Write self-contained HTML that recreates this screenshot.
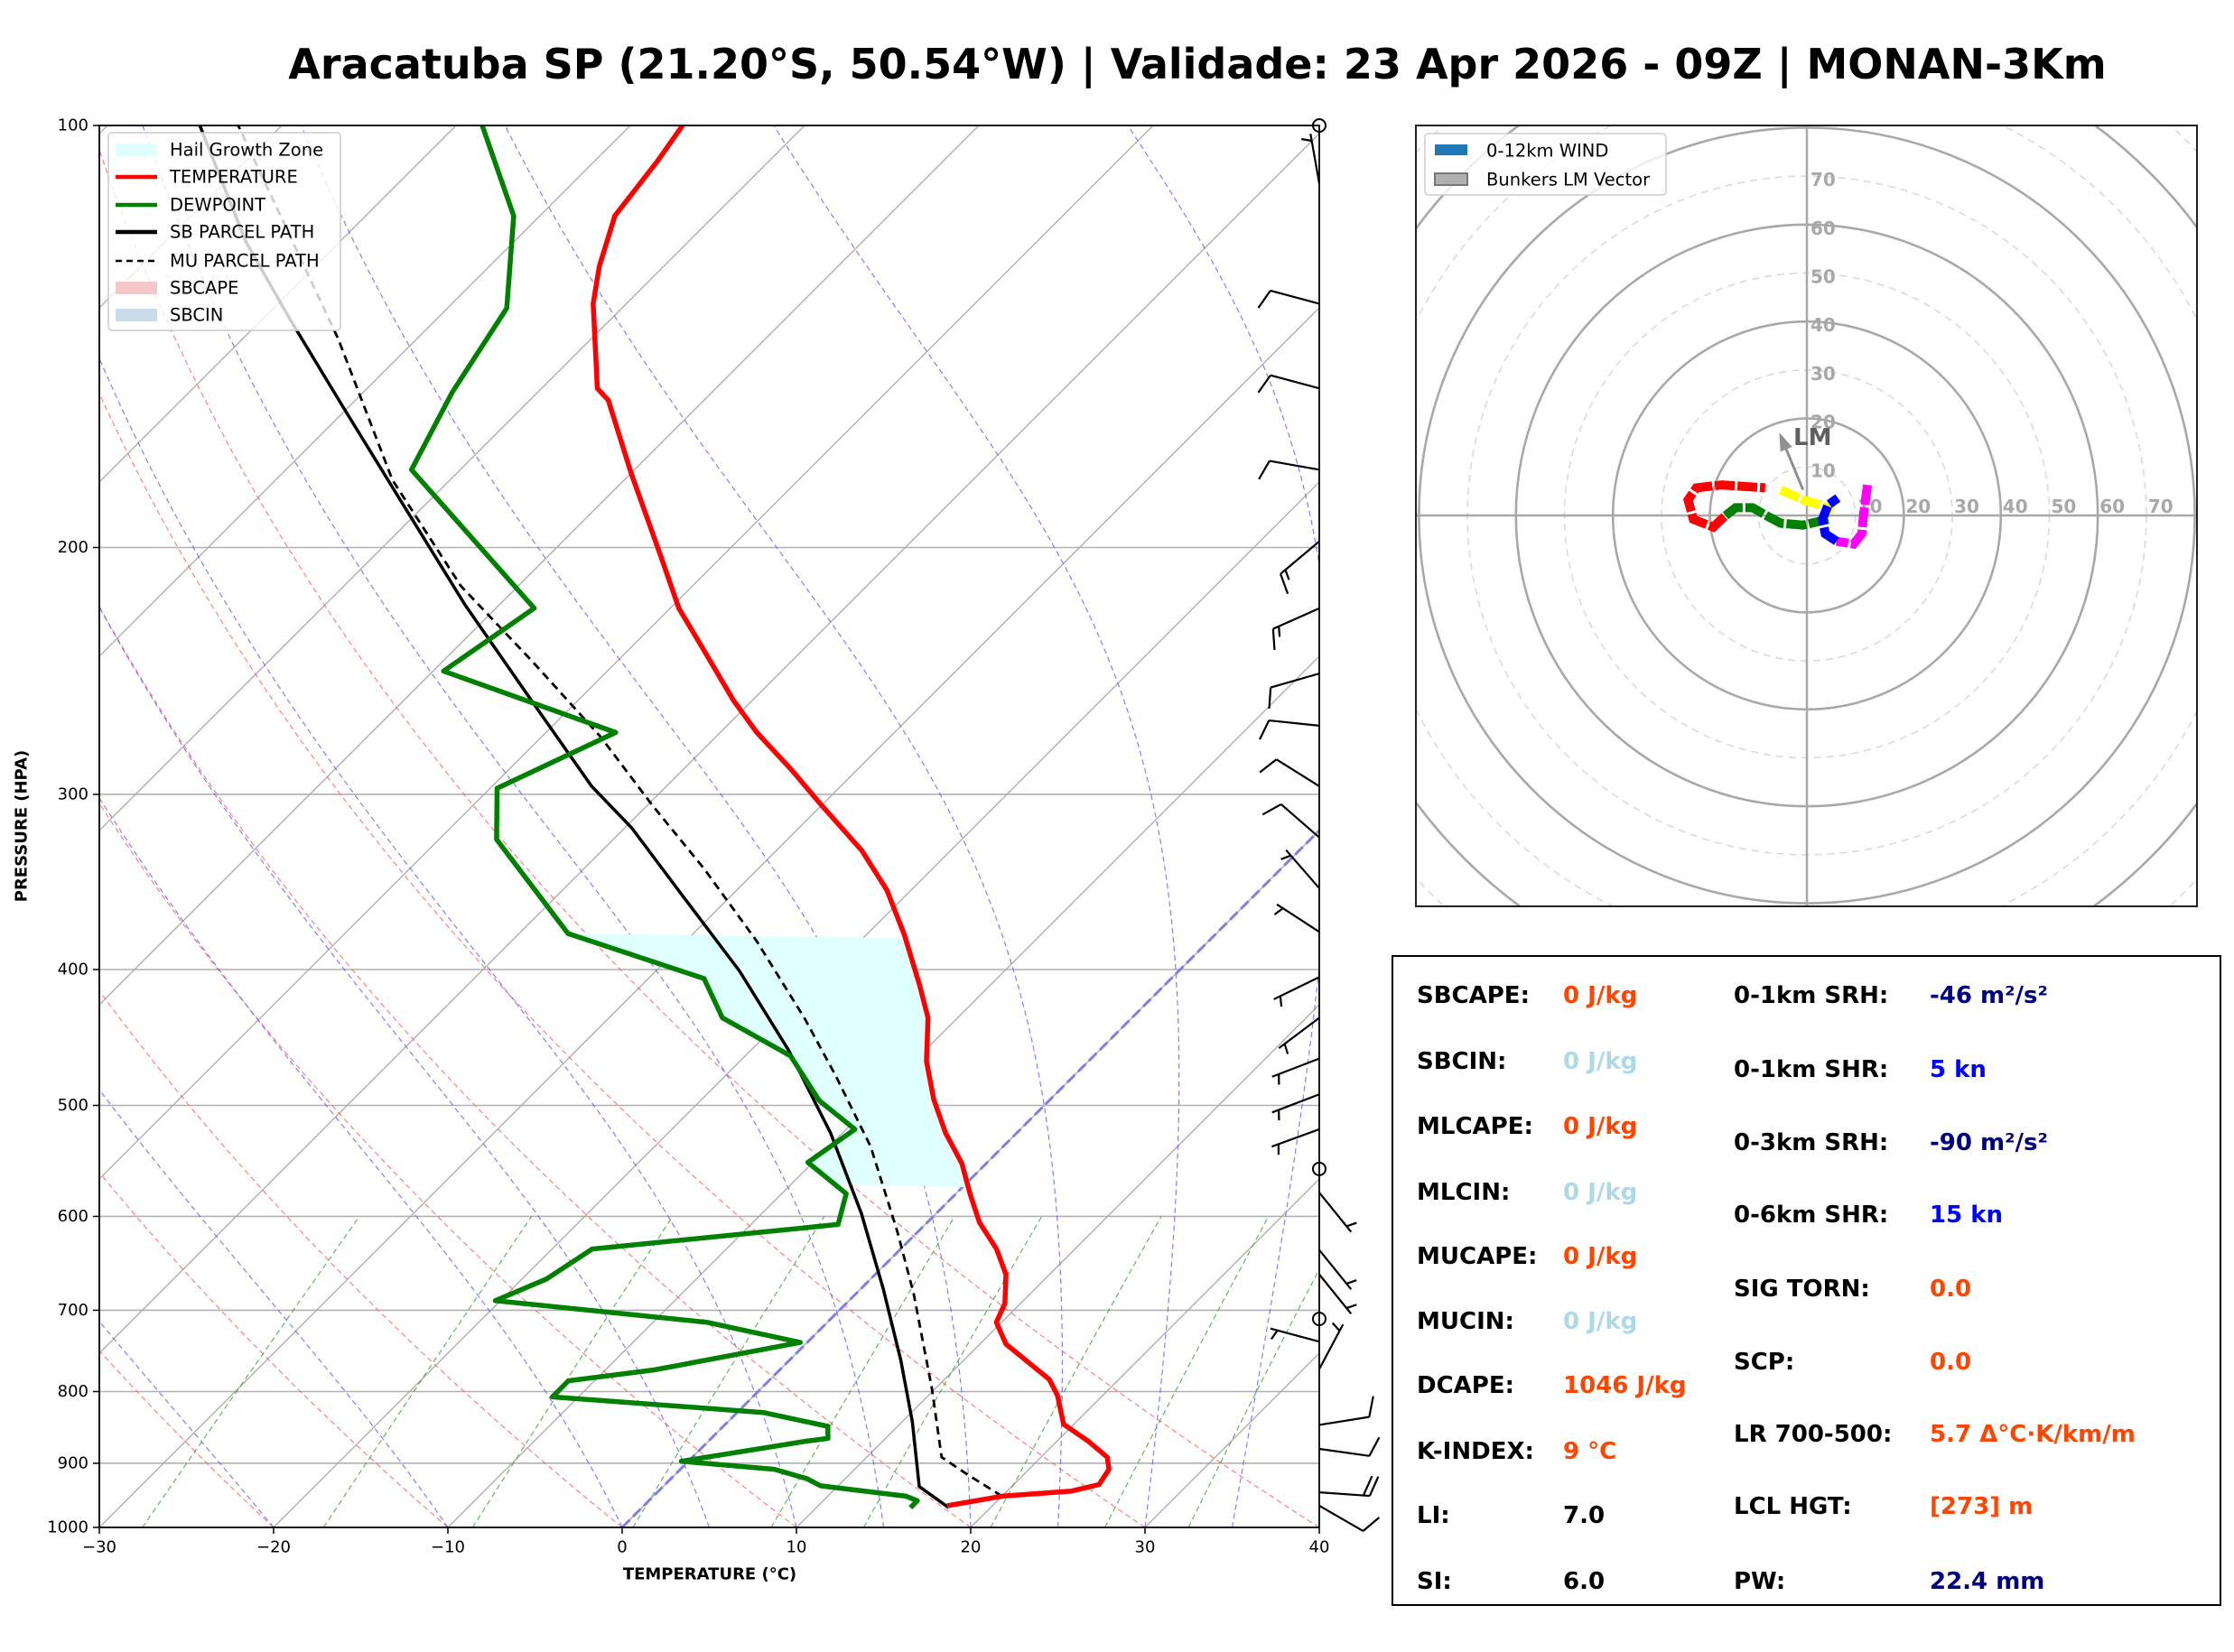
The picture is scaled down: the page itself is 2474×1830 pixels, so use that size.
<!DOCTYPE html>
<html><head><meta charset="utf-8"><style>
html,body{margin:0;padding:0;background:#fff;}
svg{display:block;font-family:"Liberation Sans","DejaVu Sans",sans-serif;}
</style></head><body>
<svg id="chart" width="2474" height="1830" viewBox="0 0 2474 1830" xmlns="http://www.w3.org/2000/svg">
<defs>
<clipPath id="skclip"><rect x="110" y="139" width="1351" height="1553"/></clipPath>
<clipPath id="hoclip"><rect x="1568" y="139" width="865" height="865"/></clipPath>
</defs>
<text x="1326" y="71" text-anchor="middle" dominant-baseline="central" font-size="46" font-weight="bold" font-family="DejaVu Sans, sans-serif">Aracatuba SP (21.20°S, 50.54°W) | Validade: 23 Apr 2026 - 09Z | MONAN-3Km</text>
<g id="sk"></g>
<g id="ho"></g>
<g id="st"></g>
</svg>
<script>
// ---- data ----
const tempP=[965,950,942,932,909,891,868,844,805,784,740,714,692,660,633,606,578,550,523,495,465,433,410,378,351,329,305,288,271,257,237,221,203,177,157,154,134,126,116,106,100];
const tempT=[17.4,20.0,23.7,24.9,24.6,23.8,21.8,19.4,17.4,16.0,11.5,9.7,9.1,7.5,5.5,3.0,0.8,-1.4,-4.1,-6.7,-9.3,-11.7,-14.1,-17.8,-21.4,-25.1,-30.1,-33.8,-37.9,-41.1,-45.6,-49.5,-53.5,-60.0,-65.5,-66.8,-71.9,-73.7,-75.7,-76.4,-77.0];
const dewP=[968,957,950,934,923,909,897,868,864,847,828,807,786,772,738,714,689,665,633,608,578,549,520,496,461,433,406,377,323,297,271,245,221,176,155,135,116,100];
const dewT=[15.4,15.4,14.5,9.0,7.8,5.4,-0.4,5.6,6.7,6.0,1.5,-11.5,-11.5,-7.2,-0.4,-6.9,-20.3,-18.6,-17.7,-5.0,-6.3,-10.3,-9.5,-13.2,-17.4,-23.5,-26.8,-37.2,-46.7,-49.6,-46.0,-59.4,-57.8,-72.8,-74.9,-76.6,-81.5,-88.5];
const sbP=[968,935,841,760,676,597,523,457,401,356,317,296,257,220,185,158,137,121,100];
const sbT=[17.6,14.7,10.6,6.4,1.3,-4.3,-10.7,-17.8,-25.2,-32.5,-39.6,-44.3,-52.7,-61.9,-71.7,-80.6,-88.6,-95.4,-104.7];
const muP=[950,916,891,796,681,615,535,476,433,382,339,305,273,241,213,179,142,100];
const muT=[20.0,16.7,14.3,9.8,3.3,-1.2,-7.6,-13.7,-18.8,-25.9,-33.1,-39.8,-46.6,-54.9,-63.3,-73.3,-84.5,-102.5];
const hailTop=377, hailBot=572;
const pTicks=[100,200,300,400,500,600,700,800,900,1000];
const tTicks=[-30,-20,-10,0,10,20,30,40];
const barbP=[110,134,154,176,198,221,246,268,296,322,350,376,405,433,463,491,520,577,634,660,737,771,845,879,944,965];
const barbSpd=[5,10,10,10,15,15,10,10,10,10,5,5,5,5,5,5,5,5,5,5,5,5,10,10,20,10];
const barbDir=[350,285,285,280,230,246,254,276,302,311,319,303,244,233,249,249,250,141,141,141,285,28,81,98,94,120];
const calmP=[100,555,710];
const hodoMagU=[12.5,11.7,11.3,9.6,6.1], hodoMagV=[6.3,0.2,-3.8,-5.9,-5.3];
const hodoBluU=[6.1,3.8,3.2,4.4,6.4], hodoBluV=[-5.3,-3.8,-0.8,2.2,3.6];
const hodoGrnU=[4.4,-0.8,-5.4,-7.7,-11.2,-14.7,-17.0], hodoGrnV=[-0.8,-2,-1.6,-0.4,1.6,1.6,-0.2];
const hodoYelU=[-5.4,-0.8,2.7,5.5], hodoYelV=[5.3,3.2,2.2,1.2];
const hodoRedU=[-17.0,-19.3,-23.4,-24.5,-22.8,-17.6,-8.6], hodoRedV=[-0.2,-2.4,-0.8,3.2,5.7,6.3,5.7];
const lmVec=[-0.8,5.3,-5.4,16.4];
const ringLabels=["10","20","30","40","50","60","70"];

// ---- helpers ----
const NS="http://www.w3.org/2000/svg";
function mk(tag,attrs,parent){const e=document.createElementNS(NS,tag);for(const k in attrs)e.setAttribute(k,attrs[k]);parent.appendChild(e);return e;}
const L=110,R=1461,T=139,B=1692;
function yp(p){return B-Math.log10(1000/p)*(B-T);}
function xs(t,p){return L+(t+30)*(R-L)/70+(B-yp(p));}
function ptsStr(P,Tt){return P.map((p,i)=>xs(Tt[i],p).toFixed(1)+","+yp(p).toFixed(1)).join(" ");}
function interp(P,Tt,p){const lp=Math.log(p);for(let i=0;i<P.length-1;i++){const a=Math.log(P[i]),b=Math.log(P[i+1]);if((lp<=a&&lp>=b)||(lp>=a&&lp<=b)){const f=(lp-a)/(b-a);return Tt[i]+f*(Tt[i+1]-Tt[i]);}}return Tt[Tt.length-1];}

const sk=document.getElementById('sk');
const clipG=mk('g',{'clip-path':'url(#skclip)'},sk);



pTicks.forEach(p=>{const l=mk('line',{x1:L,x2:R,y1:yp(p),y2:yp(p),stroke:'#b0b0b0','stroke-width':1.6},clipG);

});
for(let t=-130;t<=40;t+=10){const l=mk('line',{x1:xs(t,1000),y1:B,x2:xs(t,100),y2:T,stroke:'#a8a8a8','stroke-width':1.3},clipG);

}
for(let t0=-30;t0<=40;t0+=10){let s=[];for(let p=1000;p>=100;p-=10){const tk=(t0+273.15)*Math.pow(p/1000,0.2857)-273.15;s.push(xs(tk,p).toFixed(1)+","+yp(p).toFixed(1));}
const e=mk('polyline',{points:s.join(" "),fill:'none',stroke:'#ff6060','stroke-width':1.2,'stroke-dasharray':'6,4',opacity:0.8},clipG);

}
function esat(tk){return 6.112*Math.exp(17.67*(tk-273.15)/(tk-29.65));}
[-20,-10,0,5,10,15,20,25,30,35].forEach(t0=>{let tk=t0+273.15,s=[];for(let p=1000;p>=100;p-=2){s.push(xs(tk-273.15,p).toFixed(1)+","+yp(p).toFixed(1));const es=esat(tk),rs=0.622*es/(p-es);const d=(287*tk+2.5e6*rs)/(1005+2.5e6*2.5e6*rs*0.622/(287*tk*tk))/p;tk-=d*2;}
const e=mk('polyline',{points:s.join(" "),fill:'none',stroke:'#6060ff','stroke-width':1.2,'stroke-dasharray':'6,4',opacity:0.8},clipG);

});
[0.0004,0.001,0.002,0.004,0.007,0.01,0.016,0.024,0.032].forEach(w=>{let s=[];for(let p=1000;p>=600;p-=10){const e=w*p/(0.622+w),g=Math.log(e/6.112),td=243.5*g/(17.67-g);s.push(xs(td,p).toFixed(1)+","+yp(p).toFixed(1));}
const e=mk('polyline',{points:s.join(" "),fill:'none',stroke:'#40a040','stroke-width':1.2,'stroke-dasharray':'6,4',opacity:0.8},clipG);

});
const z0=mk('line',{x1:xs(0,1000),y1:B,x2:xs(0,100),y2:T,stroke:'#8080e0','stroke-width':3,'stroke-dasharray':'12,5'},clipG);


(function(){let s=[];for(let p=hailTop;p<=hailBot;p+=4){s.push(xs(interp(dewP,dewT,p),p).toFixed(1)+","+yp(p).toFixed(1));}
for(let p=hailBot;p>=hailTop;p-=4){s.push(xs(interp(tempP,tempT,p),p).toFixed(1)+","+yp(p).toFixed(1));}
const e=mk('polygon',{points:s.join(" "),fill:'#e0ffff',stroke:'none'},clipG);

})();
const sbl=mk('polyline',{points:ptsStr(sbP,sbT),fill:'none',stroke:'#000','stroke-width':3.5},clipG);


const mul=mk('polyline',{points:ptsStr(muP,muT),fill:'none',stroke:'#000','stroke-width':2.8,'stroke-dasharray':'9,6'},clipG);


const dwl=mk('polyline',{points:ptsStr(dewP,dewT),fill:'none',stroke:'#008000','stroke-width':5.5,'stroke-linejoin':'round'},clipG);


const tml=mk('polyline',{points:ptsStr(tempP,tempT),fill:'none',stroke:'#ff0000','stroke-width':5.5,'stroke-linejoin':'round'},clipG);


const fr=mk('rect',{x:L,y:T,width:R-L,height:B-T,fill:'none',stroke:'#000','stroke-width':1.8},sk);


pTicks.forEach(p=>{const tl=mk('line',{x1:L-7,x2:L,y1:yp(p),y2:yp(p),stroke:'#000','stroke-width':1.5},sk);


const tx=mk('text',{x:L-12,y:yp(p),'text-anchor':'end','dominant-baseline':'central','font-size':18,'font-family':'DejaVu Sans, sans-serif'},sk);tx.textContent=p;

});
tTicks.forEach(t=>{const x=L+(t+30)*(R-L)/70;const tl=mk('line',{x1:x,x2:x,y1:B,y2:B+7,stroke:'#000','stroke-width':1.5},sk);


const tx=mk('text',{x:x,y:B+22,'text-anchor':'middle','dominant-baseline':'central','font-size':18,'font-family':'DejaVu Sans, sans-serif'},sk);tx.textContent=(t<0?'\u2212'+(-t):t);

});
const xt=mk('text',{x:786,y:1744,'text-anchor':'middle','dominant-baseline':'central','font-size':18,'font-weight':'bold','font-family':'DejaVu Sans, sans-serif'},sk);xt.textContent='TEMPERATURE (°C)';


const yt=mk('text',{x:24,y:915,'text-anchor':'middle','dominant-baseline':'central','font-size':18,'font-weight':'bold','font-family':'DejaVu Sans, sans-serif',transform:'rotate(-90 24 915)'},sk);yt.textContent='PRESSURE (HPA)';


// wind barbs
barbP.forEach((p,i)=>{const g=mk('g',{},sk);


const a=barbDir[i]*Math.PI/180,dx=Math.sin(a),dy=-Math.cos(a),x0=R,y0=yp(p),Ls=56;
const x1=x0+dx*Ls,y1=y0+dy*Ls;mk('line',{x1:x0,y1:y0,x2:x1,y2:y1,stroke:'#000','stroke-width':2.2},g);
let s=barbSpd[i],k=0;const px=dy,py=-dx;
while(s>=10){const bx=x1-dx*k*7,by=y1-dy*k*7;mk('line',{x1:bx,y1:by,x2:bx+px*22+dx*8,y2:by+py*22+dy*8,stroke:'#000','stroke-width':2.2},g);s-=10;k++;}
if(s>=5){const off=(k===0?8:k*7);const bx=x1-dx*off,by=y1-dy*off;mk('line',{x1:bx,y1:by,x2:bx+px*11+dx*4,y2:by+py*11+dy*4,stroke:'#000','stroke-width':2.2},g);}});
calmP.forEach(p=>{const c=mk('circle',{cx:R,cy:yp(p),r:7,fill:'none',stroke:'#000','stroke-width':2},sk);

});
(function(){const g=mk('g',{},sk);


mk('rect',{x:120,y:147,width:257,height:219,fill:'#fff','fill-opacity':0.8,stroke:'#ccc','stroke-width':1.5,rx:4},g);
const items=[['Hail Growth Zone','patch','#e0ffff'],['TEMPERATURE','line','#ff0000'],['DEWPOINT','line','#008000'],['SB PARCEL PATH','line','#000'],['MU PARCEL PATH','dash','#000'],['SBCAPE','patch','#f4c8c8'],['SBCIN','patch','#c8dcea']];
const ys=[166,196,227,257,289,319,349];
items.forEach((it,i)=>{const y=ys[i];let m;
if(it[1]==='patch')m=mk('rect',{x:128,y:y-7,width:46,height:14,fill:it[2]},g);
else m=mk('line',{x1:128,x2:174,y1:y,y2:y,stroke:it[2],'stroke-width':it[1]==='dash'?2.5:4.5,'stroke-dasharray':it[1]==='dash'?'7,5':'none'},g);


const t=mk('text',{x:188,y:y,'dominant-baseline':'central','font-size':19.5,'font-family':'DejaVu Sans, sans-serif'},g);t.textContent=it[0];

});})();

// ---- hodograph ----
const ho=document.getElementById('ho');
const CX=2001,CY=571,K=5.37;
const hb=mk('rect',{x:1568,y:139,width:865,height:865,fill:'#fff'},ho);


const hg=mk('g',{'clip-path':'url(#hoclip)'},ho);


for(let r=10;r<=120;r+=10){const solid=(r%20===0);const c=mk('circle',{cx:CX,cy:CY,r:r*K,fill:'none',stroke:solid?'#a8a8a8':'#d8d8d8','stroke-width':solid?2.6:1.5,'stroke-dasharray':solid?'none':'8,6'},hg);

}
const ax1=mk('line',{x1:1568,x2:2433,y1:CY,y2:CY,stroke:'#a8a8a8','stroke-width':2.5},hg);


const ax2=mk('line',{x1:CX,x2:CX,y1:139,y2:1004,stroke:'#a8a8a8','stroke-width':2.5},hg);


ringLabels.forEach((lb,i)=>{const r=(i+1)*10*K;
const a=mk('text',{x:CX+4,y:CY-r+4,'dominant-baseline':'central','font-size':20,fill:'#a8a8a8','font-weight':'bold','font-family':'DejaVu Sans, sans-serif'},hg);a.textContent=lb;


const b=mk('text',{x:CX+r+2,y:CY-10,'dominant-baseline':'central','font-size':20,fill:'#a8a8a8','font-weight':'bold','font-family':'DejaVu Sans, sans-serif'},hg);b.textContent=lb;

});
function hseg(U,V,col,name){const s=U.map((u,i)=>(CX+u*K).toFixed(1)+","+(CY-V[i]*K).toFixed(1)).join(" ");
const e=mk('polyline',{points:s,fill:'none',stroke:col,'stroke-width':10,'stroke-dasharray':'22,3'},hg);

}
hseg(hodoRedU,hodoRedV,'#ff0000','hodograph-red-layer');
hseg(hodoGrnU,hodoGrnV,'#008000','hodograph-green-layer');
hseg(hodoYelU,hodoYelV,'#ffff00','hodograph-yellow-layer');
hseg(hodoMagU,hodoMagV,'#ff00ff','hodograph-magenta-layer');
hseg(hodoBluU,hodoBluV,'#0000ff','hodograph-blue-layer');
(function(){const x0=CX+lmVec[0]*K,y0=CY-lmVec[1]*K,x1=CX+lmVec[2]*K,y1=CY-lmVec[3]*K;
const ln=mk('line',{x1:x0,y1:y0,x2:x1,y2:y1,stroke:'#909090','stroke-width':3},hg);


const ang=Math.atan2(y1-y0,x1-x0),hl=16;
const hd=mk('polygon',{points:[x1+Math.cos(ang)*4,y1+Math.sin(ang)*4,x1-Math.cos(ang)*hl+Math.sin(ang)*7,y1-Math.sin(ang)*hl-Math.cos(ang)*7,x1-Math.cos(ang)*hl-Math.sin(ang)*7,y1-Math.sin(ang)*hl+Math.cos(ang)*7].map(v=>v.toFixed(1)).join(" "),fill:'#909090'},hg);


const t=mk('text',{x:x1+14,y:y1+2,'dominant-baseline':'central','font-size':26,'font-weight':'bold',fill:'#606060','font-family':'DejaVu Sans, sans-serif'},hg);t.textContent='LM';

})();
const hf=mk('rect',{x:1568,y:139,width:865,height:865,fill:'none',stroke:'#222','stroke-width':2},ho);


(function(){const g=mk('g',{},ho);


mk('rect',{x:1578,y:148,width:267,height:68,fill:'#fff','fill-opacity':0.8,stroke:'#ccc','stroke-width':1.5,rx:4},g);
const p1=mk('rect',{x:1589,y:160,width:36,height:12,fill:'#1f77b4'},g);


const p2=mk('rect',{x:1589,y:192,width:36,height:13,fill:'#b0b0b0',stroke:'#777','stroke-width':2},g);


const t1=mk('text',{x:1646,y:167,'dominant-baseline':'central','font-size':19.5,'font-family':'DejaVu Sans, sans-serif'},g);t1.textContent='0-12km WIND';


const t2=mk('text',{x:1646,y:199,'dominant-baseline':'central','font-size':19.5,'font-family':'DejaVu Sans, sans-serif'},g);t2.textContent='Bunkers LM Vector';

})();

// ---- stats ----
const st=document.getElementById('st');
const sb=mk('rect',{x:1542,y:1059,width:917,height:719,fill:'#fff',stroke:'#000','stroke-width':2},st);


const leftL=['SBCAPE:','SBCIN:','MLCAPE:','MLCIN:','MUCAPE:','MUCIN:','DCAPE:','K-INDEX:','LI:','SI:'];
const leftV=['0 J/kg','0 J/kg','0 J/kg','0 J/kg','0 J/kg','0 J/kg','1046 J/kg','9 °C','7.0','6.0'];
const leftC=['#ff4500','#add8e6','#ff4500','#add8e6','#ff4500','#add8e6','#ff4500','#ff4500','#000','#000'];
const leftY=[1103,1176,1248,1321,1392,1464,1535,1608,1679,1752];
const rightL=['0-1km SRH:','0-1km SHR:','0-3km SRH:','0-6km SHR:','SIG TORN:','SCP:','LR 700-500:','LCL HGT:','PW:'];
const rightV=['-46 m²/s²','5 kn','-90 m²/s²','15 kn','0.0','0.0','5.7 Δ°C·K/km/m','[273] m','22.4 mm'];
const rightC=['#000080','#0000ff','#000080','#0000ff','#ff4500','#ff4500','#ff4500','#ff4500','#000080'];
const rightY=[1103,1185,1266,1346,1428,1509,1589,1669,1752];
function stx(x,y,txt,col,name){const t=mk('text',{x:x,y:y,'dominant-baseline':'central','font-size':26,'font-weight':'bold',fill:col,'font-family':'DejaVu Sans, sans-serif'},st);t.textContent=txt;

}
leftL.forEach((l,i)=>{stx(1569,leftY[i],l,'#000','stat-label');stx(1731,leftY[i],leftV[i],leftC[i],'stat-value');});
rightL.forEach((l,i)=>{stx(1920,rightY[i],l,'#000','stat-label');stx(2137,rightY[i],rightV[i],rightC[i],'stat-value');});
</script>
</body></html>
